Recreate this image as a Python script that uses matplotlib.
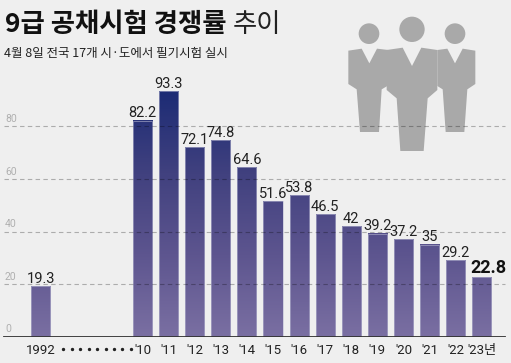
import matplotlib
matplotlib.use("Agg")
import matplotlib.pyplot as plt
import numpy as np
from matplotlib.colors import LinearSegmentedColormap
from matplotlib.patches import Circle, Polygon, Rectangle

years = ["1992", "'10", "'11", "'12", "'13", "'14", "'15", "'16", "'17", "'18",
         "'19", "'20", "'21", "'22", "'23년"]
slots = [-3.9, 0, 1, 2, 3, 4, 5, 6, 7, 8, 9, 10, 11, 12, 13]
rates = [19.3, 82.2, 93.3, 72.1, 74.8, 64.6, 51.6, 53.8, 46.5, 42, 39.2, 37.2, 35, 29.2, 22.8]
rate_labels = ["19.3", "82.2", "93.3", "72.1", "74.8", "64.6", "51.6", "53.8", "46.5",
               "42", "39.2", "37.2", "35", "29.2", "22.8"]
grid_values = [20, 40, 60, 80]

W, H = 511, 363
BG = "#efefef"
KR = ["Noto Sans CJK KR", "DejaVu Sans"]
NUM = ["Roboto", "Noto Sans CJK KR", "DejaVu Sans"]

fig = plt.figure(figsize=(W / 100, H / 100), dpi=100, facecolor=BG)

# background layer in pixel coordinates, for the icon
bg = fig.add_axes([0, 0, 1, 1], zorder=0)
bg.set_xlim(0, W)
bg.set_ylim(H, 0)
bg.axis("off")


def person(points, head, radius):
    # points come from the 3x crop of the icon, offset by x=330
    pts = [(330 + x / 3, y / 3) for x, y in points]
    bg.add_patch(Polygon(pts, closed=True, fc="#a9a9a9", ec="none"))
    bg.add_patch(Circle((330 + head[0] / 3, head[1] / 3), radius / 3, fc="#a9a9a9", ec="none"))


person([(55, 152), (95, 146), (118, 190), (141, 146), (175, 150), (172, 258), (155, 268),
        (147, 396), (90, 396), (80, 268), (55, 252)], (117, 101), 31)
person([(322, 150), (352, 146), (375, 190), (398, 146), (436, 152), (436, 252), (412, 268),
        (403, 396), (347, 396), (338, 268), (322, 258)], (375, 101), 31)
person([(170, 150), (218, 143), (246, 198), (274, 143), (322, 150), (322, 270), (293, 295),
        (281, 453), (211, 453), (200, 295), (170, 270)], (246, 88), 38)

# main chart
base_px = 336.7
ax = fig.add_axes([0, (H - base_px) / H, 1, base_px / H], zorder=1)
ax.patch.set_visible(False)

cmap = LinearSegmentedColormap.from_list("bars", ["#7a6fa2", "#5d558f", "#41417f", "#1d2c75"])
bar_w = 0.73
top = max(rates)
for x, v in zip(slots, rates):
    grad = np.linspace(v, 0, 80).reshape(-1, 1)
    ax.imshow(grad, extent=[x - bar_w / 2, x + bar_w / 2, 0, v], aspect="auto",
              cmap=cmap, vmin=0, vmax=top, zorder=2, interpolation="bilinear")
    ax.add_patch(Rectangle((x - bar_w / 2, 0), bar_w, v, fc="none", ec="#b9b9d2", lw=0.4, zorder=3))

ax.set_xlim(-142.5 / 26.1, (W - 142.5) / 26.1)
ax.set_ylim(0, base_px / 2.63)

for v in grid_values:
    ax.axhline(v, xmin=4 / W, xmax=505 / W, color="black", alpha=0.28, lw=0.8,
               dashes=(4, 3), zorder=4)
for v in [0] + grid_values:
    fig.text(5 / W, (H - base_px + (v + 1.6) * 2.63) / H, str(v), fontsize=7.5, color="#b0b0b0",
             family=NUM, va="baseline", ha="left", zorder=5)
ax.axhline(0, xmin=4 / W, xmax=505 / W, color="#333333", lw=1.3, zorder=5)

for x, v, lab in zip(slots, rates, rate_labels):
    last = lab == "22.8"
    ax.text(x + (0.27 if last else 0), v + (1.6 if last else 1.2), lab, ha="center", va="baseline",
            family=NUM, fontsize=13 if last else 10.5, fontweight="bold" if last else "normal",
            color="#111111" if last else "#222222", zorder=6)

ax.set_xticks(slots)
ax.set_xticklabels(years, family=NUM, fontsize=9.5, color="#222222")
ax.tick_params(axis="x", length=0, pad=5)
ax.set_yticks([])
for s in ax.spines.values():
    s.set_visible(False)

# the dots that stand for the skipped years
ax.plot(np.linspace(-3.03, -0.45, 9), [-4.7] * 9, ls="none", marker="o", ms=1.4, color="#222222",
        clip_on=False, zorder=6)

fig.text(5 / W, 1 - 32 / H, "9급 공채시험 경쟁률", family=KR, fontsize=19, fontweight="bold",
         color="#111111", va="baseline")
fig.text(233 / W, 1 - 32 / H, "추이", family=KR, fontsize=19, color="#222222", va="baseline")
fig.text(4 / W, 1 - 57 / H, "4월 8일 전국 17개 시·도에서 필기시험 실시", family=KR, fontsize=9,
         color="#222222", va="baseline")

fig.savefig("out.png", dpi=100, facecolor=BG)
